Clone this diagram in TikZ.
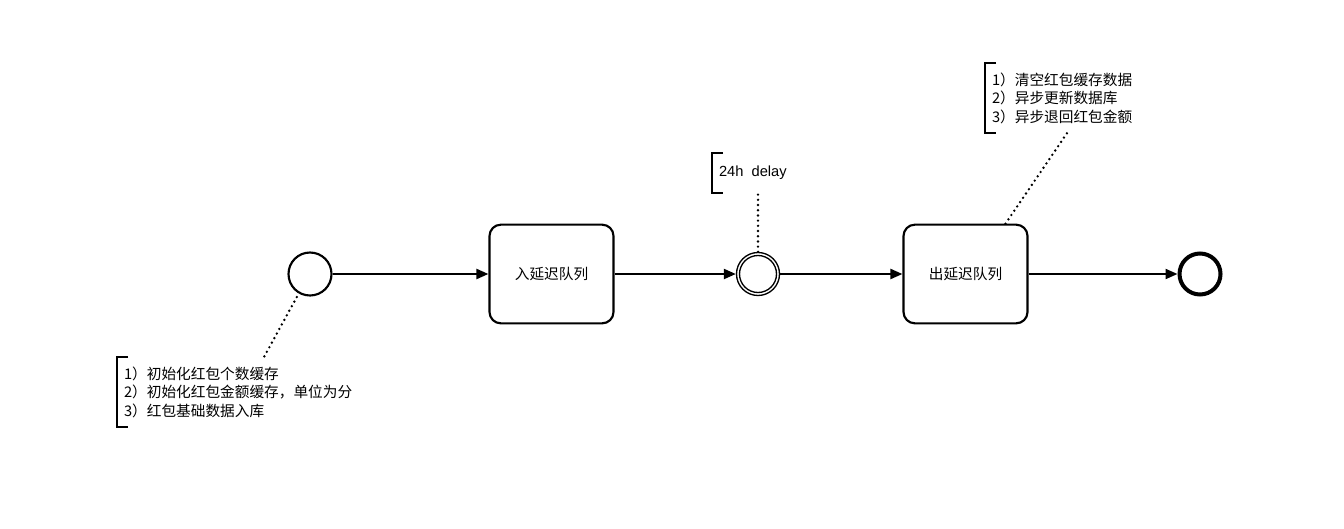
\documentclass[tikz,border=0pt]{standalone}
\usepackage{fontspec}
\setmainfont{Liberation Sans}
\newfontfamily\cjk{Noto Sans CJK SC}
\usetikzlibrary{arrows.meta,calc}

\begin{document}
\begin{tikzpicture}[x=0.75pt,y=-0.75pt,line width=1.6pt,>={Triangle[length=9pt,width=7.5pt]},
  event/.style={circle,draw,minimum size=32.25pt,inner sep=0pt},
  task/.style={draw,rounded corners=8.5pt,minimum width=93pt,minimum height=74pt,
    font=\fontsize{11}{13.9}\cjk},
  note/.style={anchor=north west,align=left,inner xsep=4.5pt,inner ysep=0pt,
    font=\fontsize{11}{13.9}\cjk},
  dots/.style={line width=2pt,dash pattern=on 0pt off 3.9pt,line cap=round}]
 \useasboundingbox (0,0) rectangle (1344,528);
 \node[event] (start) at (310,274) {};
 \node[task] (t1) at (551.5,274) {入延迟队列};
 \node[event,line width=1pt,minimum size=32.25pt] (ev) at (758,274) {};
 \draw[line width=1pt] (ev.center) circle (18.5);
 \node[task] (t2) at (965.5,274) {出延迟队列};
 \node[event,line width=3pt,minimum size=30.75pt] (stop) at (1200,274) {};
 \draw[->] (start) -- (t1);
 \draw[->] (t1) -- (ev);
 \draw[->] (ev) -- (t2);
 \draw[->] (t2) -- (stop);
 % annotations
 \node[note,minimum height=51pt] (n1) at (117,357)
   {1）初始化红包个数缓存\\2）初始化红包金额缓存，单位为分\\3）红包基础数据入库};
 \node[note,minimum height=28.5pt,font=\fontsize{11}{13.9}\selectfont] (n2) at (712,153)
   {24h\ \ delay};
 \node[note,minimum height=51pt] (n3) at (985,63)
   {1）清空红包缓存数据\\2）异步更新数据库\\3）异步退回红包金额};
 \foreach \n in {n1,n2,n3}
   \draw ([xshift=8.25pt]\n.north west) -- (\n.north west) -- (\n.south west)
     -- ([xshift=8.25pt]\n.south west);
 \draw[dots,shorten <=3pt] (start.240) -- ($(n1.north west)+(147,0)$);
 \draw[dots] (ev.north) -- (ev.north |- n2.south);
 \draw[dots] ([xshift=30pt]t2.north) -- ($(n3.south west)+(82,0)$);
\end{tikzpicture}
\end{document}
